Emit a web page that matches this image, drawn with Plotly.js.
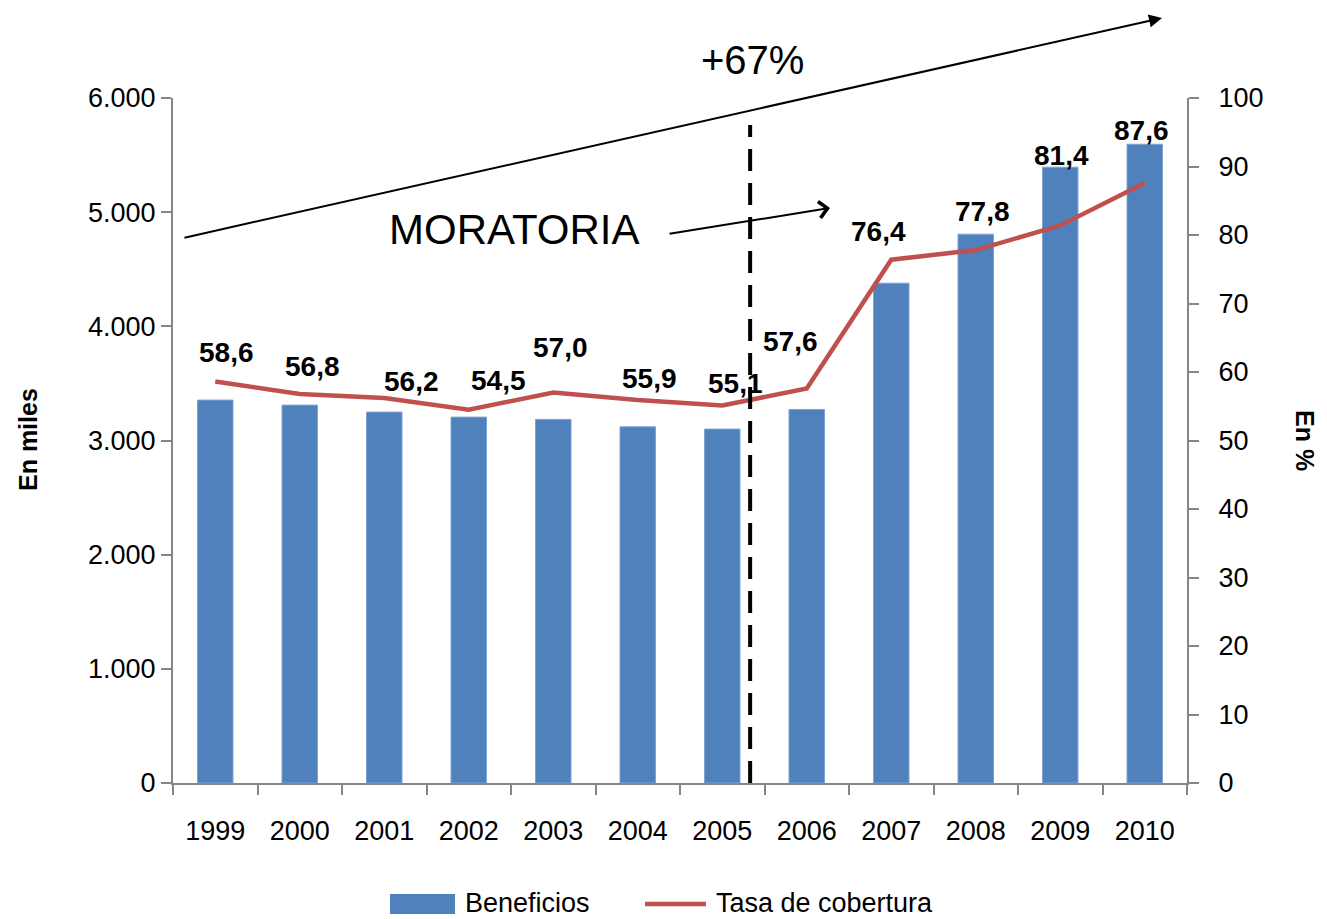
<!DOCTYPE html>
<html>
<head>
<meta charset="utf-8">
<script src="https://cdn.plot.ly/plotly-3.0.1.min.js"></script>
<style>html,body{margin:0;padding:0;background:#fff;}#chart{width:1327px;height:919px;}</style>
</head>
<body>
<div id="chart"></div>
<script>
// ---- data ----
const years = ['1999','2000','2001','2002','2003','2004','2005','2006','2007','2008','2009','2010'];
const beneficios = [3354, 3310, 3249, 3205, 3185, 3120, 3100, 3272, 4378, 4807, 5394, 5595];
const tasaCobertura = [58.6, 56.8, 56.2, 54.5, 57.0, 55.9, 55.1, 57.6, 76.4, 77.8, 81.4, 87.6];
const leftTicks = [0, 1000, 2000, 3000, 4000, 5000, 6000];
const leftTickText = ['0', '1.000', '2.000', '3.000', '4.000', '5.000', '6.000'];
const rightTicks = [0, 10, 20, 30, 40, 50, 60, 70, 80, 90, 100];
const seriesNames = ['Beneficios', 'Tasa de cobertura'];

// ---- label placement (pixel shifts, layout only) ----
const labelShiftX = [11, 13, 27, 30, 7, 12, 13, -16, -13, 7, 1, -3];
const labelShiftY = [29, 27, 17, 29, 45, 22, 22, 47, 28, 39, 70, 52];

const FONT = '"Liberation Sans", Arial, sans-serif';
const BAR_COLOR = '#4F81BD';
const LINE_COLOR = '#C0504D';
const fmt = v => v.toFixed(1).replace('.', ',');

// plot-area geometry helpers (paper coords from pixels)
const L = 173, R = 140, T = 98, B = 136, W = 1327, H = 919;
const pw = W - L - R, ph = H - T - B;
const px = x => (x - L) / pw;
const py = y => (H - B - y) / ph;

const traces = [
  {
    type: 'bar', name: seriesNames[0], x: years, y: beneficios,
    marker: {color: BAR_COLOR, line: {color: '#7FA3D1', width: 1}},
    yaxis: 'y', hoverinfo: 'x+y'
  },
  {
    type: 'scatter', mode: 'lines', name: seriesNames[1], x: years, y: tasaCobertura,
    line: {color: LINE_COLOR, width: 4.5}, yaxis: 'y2', cliponaxis: false
  }
];

const annotations = tasaCobertura.map((v, i) => ({
  x: i, y: v, xref: 'x', yref: 'y2', text: '<b>' + fmt(v) + '</b>',
  xanchor: 'center', yanchor: 'middle',
  showarrow: false, xshift: labelShiftX[i], yshift: labelShiftY[i],
  font: {family: FONT, size: 28, color: '#000'}
}));

const txt = (x, y, text, size, extra) => Object.assign({
  xref: 'paper', yref: 'paper', x: px(x), y: py(y), text: text, showarrow: false,
  xanchor: 'center', yanchor: 'middle', font: {family: FONT, size: size, color: '#000'}
}, extra || {});

// Big "+67%" arrow
annotations.push({
  xref: 'paper', yref: 'paper', x: px(1162), y: py(18), axref: 'pixel', ayref: 'pixel',
  ax: -979, ay: 220, showarrow: true, arrowhead: 2, arrowsize: 1.3, arrowwidth: 2, arrowcolor: '#000', text: ''
});
annotations.push(txt(752, 60, '+67%', 40));
// MORATORIA
annotations.push(txt(514, 230, 'MORATORIA', 42));
annotations.push({
  xref: 'paper', yref: 'paper', x: px(830), y: py(208), axref: 'pixel', ayref: 'pixel',
  ax: -162, ay: 26, showarrow: true, arrowhead: 4, arrowsize: 1.6, arrowwidth: 2, arrowcolor: '#000', text: ''
});
// Axis titles
annotations.push(txt(28, 440, '<b>En miles</b>', 25, {textangle: -90}));
annotations.push(txt(1305, 440, '<b>En %</b>', 25, {textangle: 90}));
// Legend texts
annotations.push(txt(463, 903, seriesNames[0], 27, {xanchor: 'left'}));
annotations.push(txt(714, 903, seriesNames[1], 27, {xanchor: 'left'}));

const layout = {
  width: W, height: H,
  margin: {l: L, r: R, t: T, b: B},
  paper_bgcolor: '#fff', plot_bgcolor: '#fff',
  font: {family: FONT, size: 26, color: '#000'},
  bargap: 0.58,
  showlegend: false,
  xaxis: {
    type: 'category', range: [-0.5, years.length - 0.5], showgrid: false, zeroline: false,
    showline: true, linecolor: '#868686', linewidth: 2,
    ticks: 'outside', tickson: 'boundaries', ticklen: 10, tickcolor: '#868686', tickwidth: 2,
    tickangle: 0, ticklabelstandoff: 23, tickfont: {family: FONT, size: 27, color: '#000'}
  },
  yaxis: {
    range: [0, 6000], tickvals: leftTicks, ticktext: leftTickText,
    showgrid: false, zeroline: false, showline: true, linecolor: '#868686', linewidth: 2,
    ticks: 'outside', ticklen: 10, tickcolor: '#868686', tickwidth: 2,
    tickfont: {family: FONT, size: 27, color: '#000'}
  },
  yaxis2: {
    overlaying: 'y', side: 'right', range: [0, 100], tickvals: rightTicks,
    showgrid: false, zeroline: false, showline: true, linecolor: '#868686', linewidth: 2,
    ticks: 'outside', ticklen: 10, tickcolor: '#868686', tickwidth: 2,
    ticklabelstandoff: 14, tickfont: {family: FONT, size: 27, color: '#000'}
  },
  shapes: [
    {
      type: 'line', xref: 'x', yref: 'paper', x0: 6.33, x1: 6.33, y0: 0, y1: py(125),
      line: {color: '#000', width: 4, dash: '22px,12px'}
    },
    // legend swatches
    {
      type: 'rect', xref: 'paper', yref: 'paper', x0: px(390), x1: px(455), y0: py(914), y1: py(894),
      fillcolor: BAR_COLOR, line: {width: 0}
    },
    {
      type: 'line', xref: 'paper', yref: 'paper', x0: px(645), x1: px(706), y0: py(904), y1: py(904),
      line: {color: LINE_COLOR, width: 4.5}
    }
  ],
  annotations: annotations
};

Plotly.newPlot('chart', traces, layout, {displayModeBar: false, staticPlot: true});
</script>
</body>
</html>
